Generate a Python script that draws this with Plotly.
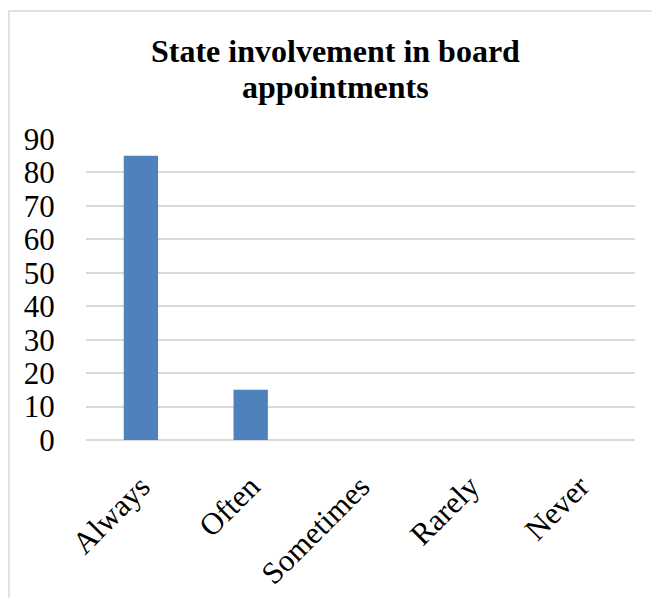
import plotly.graph_objects as go

# Survey responses: how often the state is involved in board appointments
categories = ["Always", "Often", "Sometimes", "Rarely", "Never"]
values = [85, 15, 0, 0, 0]
y_ticks = [0, 10, 20, 30, 40, 50, 60, 70, 80, 90]
title_lines = ["State involvement in board", "appointments"]

SERIF = "Liberation Serif, Times New Roman, serif"
GRID = "#d9d9d9"

fig = go.Figure(
    go.Bar(
        x=categories,
        y=values,
        marker=dict(color="#4f81bd", line=dict(width=0)),
    )
)

# chart title, two lines set closely like a word-processor chart
for text, ypos in zip(title_lines, [1.292, 1.172]):
    fig.add_annotation(
        text=f"<b>{text}</b>",
        xref="paper", yref="paper",
        x=0.4545, y=ypos,
        xanchor="center", yanchor="middle",
        showarrow=False,
        font=dict(family=SERIF, size=32, color="#000000"),
    )

# thin outer frame of the chart area
fig.add_shape(
    type="rect", xref="paper", yref="paper",
    x0=-0.1403, y0=-0.7, x1=1.2, y1=1.425,
    line=dict(color=GRID, width=1.5),
    fillcolor="rgba(0,0,0,0)",
    layer="below",
)

fig.update_layout(
    width=652,
    height=598,
    margin=dict(l=86, r=17, t=139, b=158),
    paper_bgcolor="white",
    plot_bgcolor="white",
    bargap=0.6875,
    showlegend=False,
    font=dict(family=SERIF, color="#000000"),
)

fig.update_xaxes(
    type="category",
    tickangle=-45,
    tickfont=dict(family=SERIF, size=31, color="#000000"),
    showgrid=False,
    showline=False,
    ticks="outside",
    ticklen=15,
    tickcolor="rgba(0,0,0,0)",
    automargin=False,
)

fig.update_yaxes(
    range=[0, 90],
    tickvals=y_ticks,
    tickfont=dict(family=SERIF, size=31, color="#000000"),
    showgrid=True,
    gridcolor=GRID,
    gridwidth=1.5,
    zeroline=True,
    zerolinecolor=GRID,
    zerolinewidth=1.5,
    showline=False,
    ticks="outside",
    ticklen=24,
    tickcolor="rgba(0,0,0,0)",
    automargin=False,
)

fig.write_html("out.html")
